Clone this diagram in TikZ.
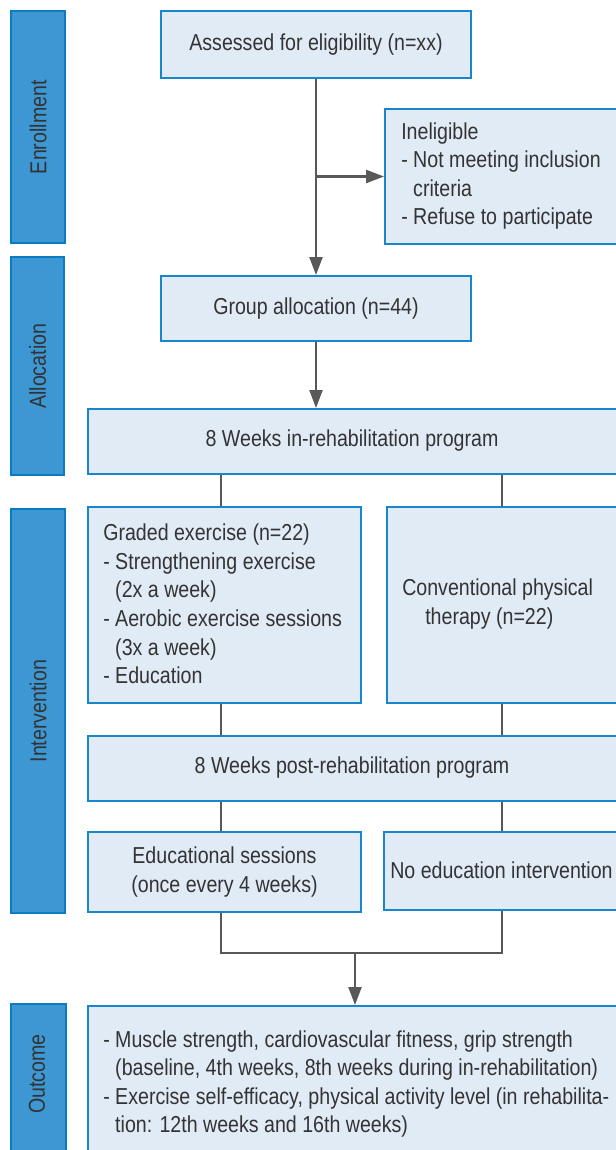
\documentclass[tikz,border=0pt]{standalone}
\usepackage{fontspec}
\setmainfont{Liberation Sans}[FakeStretch=0.85]
\usetikzlibrary{arrows.meta}
\definecolor{boxfill}{RGB}{225,235,246}
\definecolor{boxline}{RGB}{24,134,204}
\definecolor{barfill}{RGB}{61,151,211}
\definecolor{barline}{RGB}{12,124,194}
\definecolor{connc}{RGB}{88,88,88}
\definecolor{txt}{RGB}{51,51,51}
\begin{document}
\begin{tikzpicture}[x=0.75pt,y=-0.75pt,
  font=\fontsize{17.3}{21.4}\selectfont, text=txt,
  box/.style={draw=boxline, fill=boxfill, line width=1.5pt, inner sep=0pt, anchor=north west},
  bar/.style={draw=barline, fill=barfill, line width=1.8pt, inner sep=0pt, anchor=north west},
  lbl/.style={rotate=90, text=txt, inner sep=0pt},
  txtl/.style={anchor=west, align=left, inner sep=0pt},
  txtc/.style={align=center, inner sep=0pt},
  conn/.style={draw=connc, line width=1.7pt},
  arr/.style={conn, -{Triangle[length=13.5pt,width=9.75pt]}},
]
\useasboundingbox (0,0) rectangle (616,1150);
\clip (0,0) rectangle (616,1150);
\fill[white] (0,0) rectangle (616,1150);

% side bars
\node[bar, minimum width=54*0.75pt, minimum height=232*0.75pt] (barEnr) at (10,10) {};
\node[lbl] (lblEnr) at (barEnr.center) {Enrollment};
\node[bar, minimum width=53*0.75pt, minimum height=218*0.75pt] (barAll) at (10,256) {};
\node[lbl] (lblAll) at (barAll.center) {Allocation};
\node[bar, minimum width=54*0.75pt, minimum height=404*0.75pt] (barInt) at (10,508) {};
\node[lbl] (lblInt) at (barInt.center) {Intervention};
\node[bar, minimum width=55*0.75pt, minimum height=200*0.75pt] (barOut) at (10,1003) {};
\node[lbl] (lblOut) at (37,1074) {Outcome};

% boxes
\node[box, minimum width=310*0.75pt, minimum height=67*0.75pt] (assess) at (160,10) {};
\node[txtc] (assessT) at (assess.center) {Assessed for eligibility (n=xx)};

\node[box, minimum width=260*0.75pt, minimum height=135*0.75pt] (inel) at (384,108) {};
\node[txtl] (inelT) at (401,176) {Ineligible\\- Not meeting inclusion\\\phantom{- }criteria\\- Refuse to participate};

\node[box, minimum width=310*0.75pt, minimum height=65*0.75pt] (alloc) at (160,275) {};
\node[txtc] (allocT) at (alloc.center) {Group allocation (n=44)};

\node[box, minimum width=560*0.75pt, minimum height=65*0.75pt] (inrehab) at (87,408) {};
\node[txtc] (inrehabT) at (352,441) {8 Weeks in-rehabilitation program};

\node[box, minimum width=273*0.75pt, minimum height=196*0.75pt] (graded) at (87,506) {};
\node[txtl] (gradedT) at (103,604) {Graded exercise (n=22)\\- Strengthening exercise\\\phantom{- }(2x a week)\\- Aerobic exercise sessions\\\phantom{- }(3x a week)\\- Education};

\node[box, minimum width=260*0.75pt, minimum height=196*0.75pt] (conv) at (386,506) {};
\node[txtl] (convT) at (402,604) {Conventional physical\\\hspace{17.25pt}therapy (n=22)};

\node[box, minimum width=560*0.75pt, minimum height=65*0.75pt] (post) at (87,735) {};
\node[txtc] (postT) at (352,768) {8 Weeks post-rehabilitation program};

\node[box, minimum width=273*0.75pt, minimum height=80*0.75pt] (edu) at (87,831) {};
\node[txtc] (eduT) at (edu.center) {Educational sessions\\(once every 4 weeks)};

\node[box, minimum width=260*0.75pt, minimum height=78*0.75pt] (noedu) at (383,831) {};
\node[txtl] (noeduT) at (390,870) {No education intervention};

\node[box, minimum width=560*0.75pt, minimum height=200*0.75pt] (outc) at (87,1005) {};
\node[txtl] (outcT) at (103,1084) {- Muscle strength, cardiovascular fitness, grip strength\\\phantom{- }(baseline, 4th weeks, 8th weeks during in-rehabilitation)\\- Exercise self-efficacy, physical activity level (in rehabilita-\\\phantom{- }tion: 12th weeks and 16th weeks)};

% connectors
\coordinate (cL) at (221,0);
\coordinate (cR) at (502,0);
\coordinate (join) at (355,953);

\draw[arr] (assess.south) -- (alloc.north);
\draw[arr] (assess.south |- inel.west) -- (inel.west);
\draw[arr] (alloc.south) -- (alloc.south |- inrehab.north);
\draw[conn] (inrehab.south -| cL) -- (graded.north -| cL);
\draw[conn] (inrehab.south -| cR) -- (conv.north -| cR);
\draw[conn] (graded.south -| cL) -- (post.north -| cL);
\draw[conn] (conv.south -| cR) -- (post.north -| cR);
\draw[conn] (post.south -| cL) -- (edu.north -| cL);
\draw[conn] (post.south -| cR) -- (noedu.north -| cR);
\draw[conn] (edu.south -| cL) |- (join) -| (noedu.south -| cR);
\draw[arr] (join) -- (join |- outc.north);
\end{tikzpicture}
\end{document}
